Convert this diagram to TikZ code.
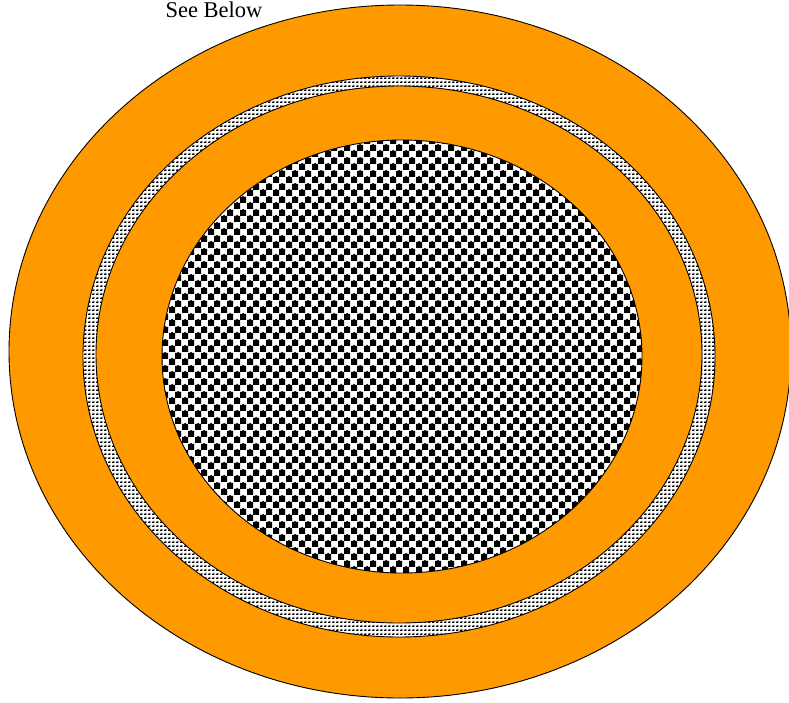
\documentclass[tikz,border=0pt]{standalone}
\usepackage{fontspec}
\setmainfont{Liberation Serif}
\usetikzlibrary{patterns}
\definecolor{ringorange}{RGB}{255,153,0}
\pgfdeclarepatternformonly{bigcheck}{\pgfqpoint{0pt}{0pt}}{\pgfqpoint{13pt}{13pt}}{\pgfqpoint{13pt}{13pt}}{%
  \pgfpathrectangle{\pgfqpoint{0pt}{0pt}}{\pgfqpoint{6.5pt}{6.5pt}}%
  \pgfpathrectangle{\pgfqpoint{6.5pt}{6.5pt}}{\pgfqpoint{6.5pt}{6.5pt}}%
  \pgfpathcircle{\pgfqpoint{3.25pt}{6pt}}{1.8pt}%
  \pgfpathcircle{\pgfqpoint{9.75pt}{12.5pt}}{1.8pt}%
  \pgfusepath{fill}}
\pgfdeclarepatternformonly{smallweave}{\pgfqpoint{0pt}{0pt}}{\pgfqpoint{4pt}{4pt}}{\pgfqpoint{4pt}{4pt}}{%
  \pgfpathrectangle{\pgfqpoint{0pt}{0pt}}{\pgfqpoint{3pt}{1.6pt}}%
  \pgfpathrectangle{\pgfqpoint{2pt}{1.6pt}}{\pgfqpoint{1pt}{1pt}}%
  \pgfusepath{fill}}
\tikzset{
  band/.style={fill=ringorange, draw=black, line width=0.9pt},
  bigpat/.style={preaction={fill=white}, pattern=bigcheck, draw=black, line width=0.9pt},
  smallpat/.style={preaction={fill=white}, pattern=smallweave, draw=black, line width=0.9pt},
  label/.style={font=\fontsize{22.5}{24}\selectfont, inner sep=0pt, anchor=base}
}
\begin{document}
\begin{tikzpicture}[x=1pt,y=-1pt]
  \useasboundingbox (0,0) rectangle (789,702);
  \clip (0,0) rectangle (789,702);
  \fill[white] (0,0) rectangle (789,702);
  \path[band] (400,351.5) ellipse [x radius=391pt, y radius=346.5pt];
  \path[smallpat] (399,356.5) ellipse [x radius=316pt, y radius=280.5pt];
  \path[band] (399,354.5) ellipse [x radius=303pt, y radius=268.5pt];
  \path[bigpat] (402,356.5) ellipse [x radius=240pt, y radius=216.5pt];
  \node[label] (title) at (214,17.5) {See Below};
\end{tikzpicture}
\end{document}
